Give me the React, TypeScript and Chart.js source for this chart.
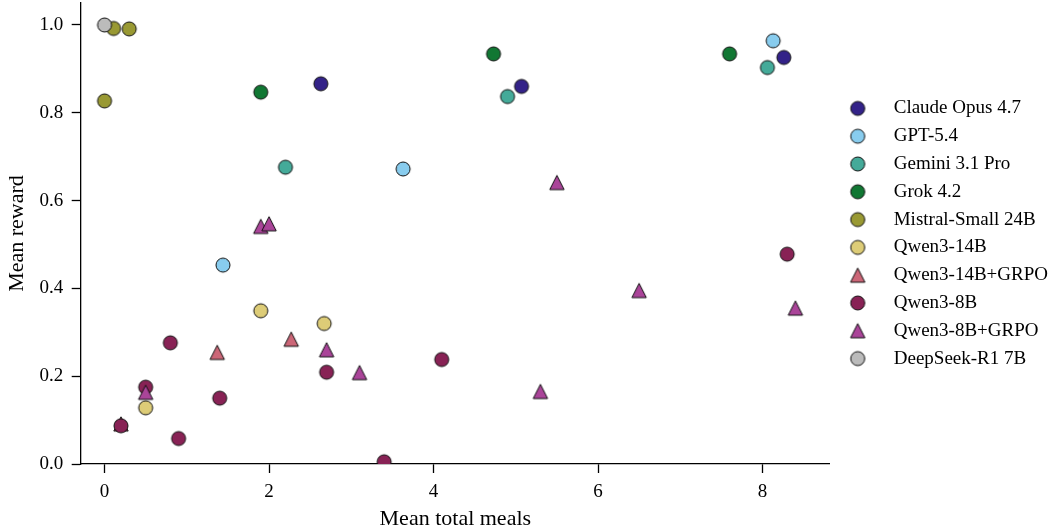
import React, { useEffect, useRef } from 'react';
import { Chart, registerables } from 'chart.js';

Chart.register(...registerables);

// ---- data ----
const seriesNames = [
  'Claude Opus 4.7',
  'GPT-5.4',
  'Gemini 3.1 Pro',
  'Grok 4.2',
  'Mistral-Small 24B',
  'Qwen3-14B',
  'Qwen3-14B+GRPO',
  'Qwen3-8B',
  'Qwen3-8B+GRPO',
  'DeepSeek-R1 7B',
];
const seriesColors = [
  '#332288', '#88CCEE', '#44AA99', '#117733', '#999933',
  '#DDCC77', '#CC6677', '#882255', '#AA4499', '#BBBBBB',
];
const seriesShapes = [
  'circle', 'circle', 'circle', 'circle', 'circle',
  'circle', 'triangle', 'circle', 'triangle', 'circle',
];

const claudeX = [2.63, 5.07, 8.26];
const claudeY = [0.866, 0.860, 0.926];
const gptX = [1.44, 3.63, 8.13];
const gptY = [0.453, 0.672, 0.964];
const geminiX = [2.2, 4.9, 8.06];
const geminiY = [0.676, 0.837, 0.903];
const grokX = [1.9, 4.73, 7.6];
const grokY = [0.847, 0.934, 0.934];
const mistralX = [0.0, 0.11, 0.3];
const mistralY = [0.827, 0.992, 0.991];
const qwen14X = [1.9, 2.67, 0.5];
const qwen14Y = [0.349, 0.32, 0.128];
const qwen14GrpoX = [1.37, 2.27, 0.2];
const qwen14GrpoY = [0.254, 0.284, 0.091];
const qwen8X = [0.2, 0.5, 0.8, 0.9, 1.4, 2.7, 4.1, 3.4, 8.3];
const qwen8Y = [0.087, 0.175, 0.276, 0.058, 0.15, 0.209, 0.238, 0.005, 0.478];
const qwen8GrpoX = [1.9, 2.0, 0.5, 2.7, 3.1, 5.3, 6.5, 5.5, 8.4];
const qwen8GrpoY = [0.541, 0.547, 0.163, 0.26, 0.208, 0.165, 0.395, 0.641, 0.355];
const deepseekX = [0.0];
const deepseekY = [1.0];

const seriesX = [claudeX, gptX, geminiX, grokX, mistralX, qwen14X, qwen14GrpoX, qwen8X, qwen8GrpoX, deepseekX];
const seriesY = [claudeY, gptY, geminiY, grokY, mistralY, qwen14Y, qwen14GrpoY, qwen8Y, qwen8GrpoY, deepseekY];

const xTicks = [0, 2, 4, 6, 8];
const yTicks = [0, 0.2, 0.4, 0.6, 0.8, 1.0];
const xLabel = 'Mean total meals';
const yLabel = 'Mean reward';

const FONT = '"Liberation Serif", "Times New Roman", serif';

function makeMarker(shape: string, color: string, w: number, h: number, cx: number, cy: number) {
  const c = document.createElement('canvas');
  c.width = w;
  c.height = h;
  const ctx = c.getContext('2d')!;
  ctx.fillStyle = color;
  ctx.strokeStyle = '#111111';
  ctx.lineWidth = 1;
  ctx.beginPath();
  if (shape === 'circle') {
    ctx.arc(cx, cy, 7, 0, Math.PI * 2);
  } else {
    ctx.moveTo(cx, cy - 7.2);
    ctx.lineTo(cx + 7.2, cy + 7);
    ctx.lineTo(cx - 7.2, cy + 7);
    ctx.closePath();
  }
  ctx.fill();
  ctx.stroke();
  return c;
}

function zeroPadding(s: any) {
  s.paddingTop = 0;
  s.paddingBottom = 0;
  s.paddingLeft = 0;
  s.paddingRight = 0;
}

export default function App() {
  const ref = useRef<HTMLCanvasElement | null>(null);

  useEffect(() => {
    document.body.style.margin = '0';
    const canvas = ref.current;
    if (!canvas) return;

    const pointMarkers = seriesNames.map((_, i) => makeMarker(seriesShapes[i], seriesColors[i], 18, 18, 9, 9));
    const legendMarkers = seriesNames.map((_, i) => makeMarker(seriesShapes[i], seriesColors[i], 26, 18, 9.25, 9));

    const n = seriesNames.length;
    const datasets = seriesNames.map((name, i) => ({
      label: name,
      data: seriesX[i].map((x, j) => ({ x, y: seriesY[i][j] })),
      pointStyle: pointMarkers[i] as any,
      pointRadius: 7.5,
      pointHoverRadius: 7.5,
      backgroundColor: seriesColors[i],
      borderColor: '#000',
      order: n - i,
      clip: 0,
    }));

    const tickFont = { family: FONT, size: 19 };
    const titleFont = { family: FONT, size: 22, lineHeight: 1.2 };

    const chart = new Chart(canvas, {
      type: 'scatter',
      data: { datasets },
      options: {
        animation: false,
        responsive: false,
        events: [],
        layout: { autoPadding: false, padding: { top: 3, left: 0, right: -4, bottom: -1 } },
        plugins: {
          tooltip: { enabled: false },
          legend: {
            position: 'right',
            fullSize: false,
            align: 'center',
            labels: {
              usePointStyle: true,
              pointStyleWidth: 45.5,
              padding: 8.8,
              color: '#000',
              font: { family: FONT, size: 19 },
              generateLabels: () =>
                seriesNames.map((name, i) => ({
                  text: name,
                  fillStyle: seriesColors[i],
                  strokeStyle: '#000',
                  lineWidth: 1,
                  pointStyle: legendMarkers[i] as any,
                  hidden: false,
                  datasetIndex: i,
                  fontColor: '#000',
                })),
            },
          },
        },
        scales: {
          x: {
            type: 'linear',
            min: -0.29,
            max: 8.82,
            afterBuildTicks: (s: any) => {
              s.ticks = xTicks.map((v) => ({ value: v }));
            },
            afterFit: (s: any) => {
              s.height = 68;
              zeroPadding(s);
            },
            ticks: {
              color: '#000',
              font: tickFont,
              padding: 7.6,
              callback: (v: any) => String(v),
            },
            grid: {
              drawOnChartArea: false,
              drawTicks: true,
              tickLength: 9,
              tickWidth: 1.3,
              tickColor: '#000',
              color: '#000',
            },
            border: { display: true, color: '#000', width: 1.3 },
            title: {
              display: true,
              text: xLabel,
              color: '#000',
              font: titleFont,
              padding: { top: 0, bottom: 0 },
            },
          },
          y: {
            type: 'linear',
            min: 0,
            max: 1.05,
            afterBuildTicks: (s: any) => {
              s.ticks = yTicks.map((v) => ({ value: v }));
            },
            afterFit: (s: any) => {
              s.width = 80.7;
              zeroPadding(s);
            },
            ticks: {
              color: '#000',
              font: tickFont,
              padding: 8.4,
              callback: (v: any) => Number(v).toFixed(1),
            },
            grid: {
              drawOnChartArea: false,
              drawTicks: true,
              tickLength: 9,
              tickWidth: 1.3,
              tickColor: '#000',
              color: '#000',
            },
            border: { display: true, color: '#000', width: 1.3 },
            title: {
              display: true,
              text: yLabel,
              color: '#000',
              font: titleFont,
              padding: { top: 4.3, bottom: 0 },
            },
          },
        },
      },
    } as any);

    return () => chart.destroy();
  }, []);

  return <canvas ref={ref} width={1054} height={531} style={{ display: 'block' }} />;
}
